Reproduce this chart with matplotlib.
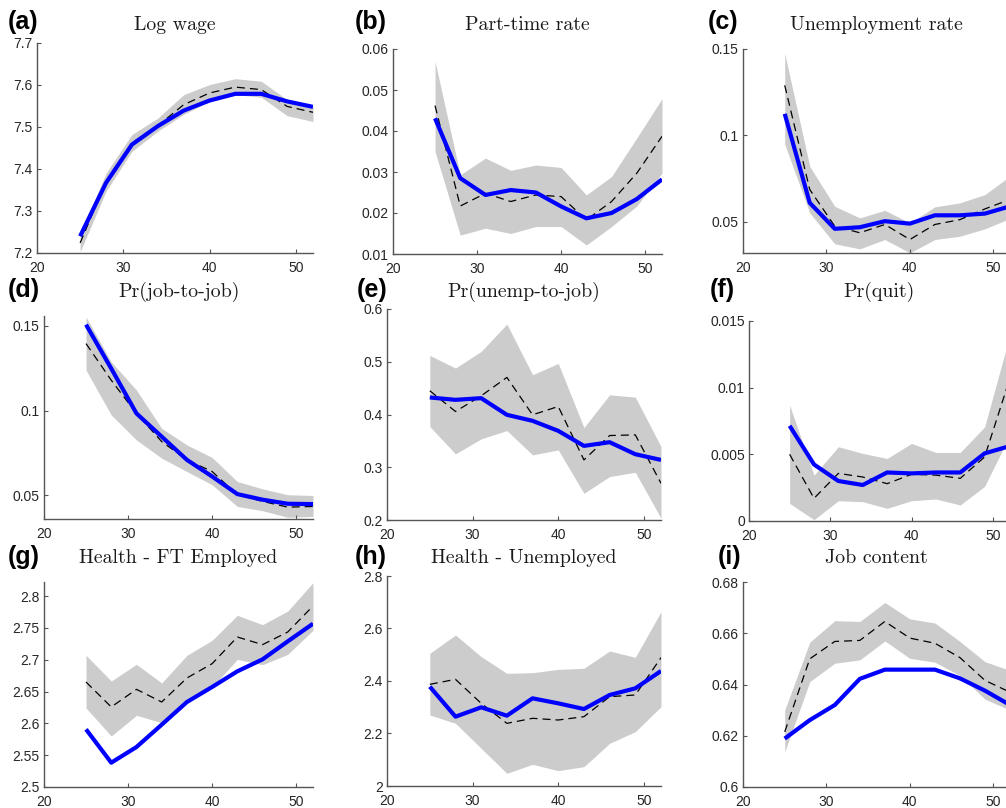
import matplotlib

matplotlib.use("Agg")
import matplotlib.pyplot as plt
from matplotlib.ticker import FixedLocator, FuncFormatter

W, H = 1006, 808

ages = [25, 28, 31, 34, 37, 40, 43, 46, 49, 52]

# (a) log wage
wage_model = [7.240, 7.367, 7.458, 7.502, 7.539, 7.563, 7.579, 7.579, 7.561, 7.548]
wage_data = [7.224, 7.370, 7.462, 7.503, 7.553, 7.581, 7.595, 7.589, 7.549, 7.535]
wage_hi = [7.245, 7.390, 7.482, 7.521, 7.577, 7.601, 7.615, 7.609, 7.565, 7.550]
wage_lo = [7.203, 7.347, 7.442, 7.490, 7.530, 7.561, 7.577, 7.571, 7.527, 7.513]

# (b) part-time rate
pt_model = [0.0431, 0.0285, 0.0244, 0.0256, 0.0250, 0.0216, 0.0187, 0.0200, 0.0234, 0.0282]
pt_data = [0.0462, 0.0217, 0.0248, 0.0228, 0.0244, 0.0240, 0.0183, 0.0228, 0.0297, 0.0387]
pt_hi = [0.0570, 0.0293, 0.0334, 0.0304, 0.0317, 0.0311, 0.0244, 0.0289, 0.0383, 0.0479]
pt_lo = [0.0350, 0.0146, 0.0163, 0.0150, 0.0167, 0.0167, 0.0122, 0.0167, 0.0217, 0.0297]

# (c) unemployment rate
ur_model = [0.1125, 0.0610, 0.0460, 0.0469, 0.0504, 0.0490, 0.0538, 0.0538, 0.0548, 0.0590]
ur_data = [0.1290, 0.0687, 0.0475, 0.0437, 0.0485, 0.0398, 0.0485, 0.0513, 0.0575, 0.0630]
ur_hi = [0.1475, 0.0821, 0.0590, 0.0523, 0.0567, 0.0494, 0.0587, 0.0610, 0.0658, 0.0765]
ur_lo = [0.0950, 0.0552, 0.0373, 0.0344, 0.0398, 0.0321, 0.0398, 0.0417, 0.0460, 0.0520]

# (d) job-to-job
j2j_model = [0.1508, 0.1249, 0.0984, 0.0847, 0.0710, 0.0612, 0.0508, 0.0475, 0.0451, 0.0449]
j2j_data = [0.1396, 0.1180, 0.0984, 0.0818, 0.0710, 0.0641, 0.0504, 0.0465, 0.0431, 0.0435]
j2j_hi = [0.1553, 0.1288, 0.1122, 0.0896, 0.0798, 0.0724, 0.0582, 0.0539, 0.0504, 0.0500]
j2j_lo = [0.1239, 0.0975, 0.0827, 0.0720, 0.0641, 0.0563, 0.0435, 0.0410, 0.0371, 0.0376]

# (e) unemp-to-job
u2j_model = [0.4323, 0.4278, 0.4310, 0.3994, 0.3880, 0.3690, 0.3405, 0.3475, 0.3247, 0.3139]
u2j_data = [0.4450, 0.4057, 0.4354, 0.4703, 0.3994, 0.4152, 0.3139, 0.3601, 0.3614, 0.2696]
u2j_hi = [0.5120, 0.4880, 0.5196, 0.5715, 0.4753, 0.4968, 0.3753, 0.4373, 0.4329, 0.3392]
u2j_lo = [0.3772, 0.3253, 0.3538, 0.3696, 0.3234, 0.3329, 0.2506, 0.2823, 0.2905, 0.2032]

# (f) quit
quit_model = [0.00714, 0.00424, 0.00300, 0.00270, 0.00364, 0.00357, 0.00364, 0.00364, 0.00507, 0.00560]
quit_data = [0.00500, 0.00170, 0.00357, 0.00330, 0.00280, 0.00350, 0.00344, 0.00320, 0.00480, 0.01050]
quit_hi = [0.00869, 0.00344, 0.00557, 0.00507, 0.00469, 0.00582, 0.00514, 0.00514, 0.00706, 0.01370]
quit_lo = [0.00132, 0.00010, 0.00152, 0.00145, 0.00095, 0.00152, 0.00165, 0.00120, 0.00260, 0.00630]

# (g) health, full-time employed
hft_model = [2.5906, 2.5382, 2.5628, 2.5979, 2.6335, 2.6571, 2.6817, 2.7005, 2.7288, 2.7565]
hft_data = [2.6649, 2.6257, 2.6534, 2.6335, 2.6712, 2.6937, 2.7356, 2.7236, 2.7435, 2.7843]
hft_hi = [2.7068, 2.6665, 2.6927, 2.6634, 2.7068, 2.7304, 2.7696, 2.7550, 2.7764, 2.8209]
hft_lo = [2.6241, 2.5801, 2.6126, 2.6010, 2.6351, 2.6571, 2.7005, 2.6921, 2.7084, 2.7461]

# (h) health, unemployed
hun_model = [2.3784, 2.2641, 2.2997, 2.2679, 2.3340, 2.3149, 2.2933, 2.3467, 2.3721, 2.4381]
hun_data = [2.3873, 2.4063, 2.3149, 2.2387, 2.2578, 2.2514, 2.2641, 2.3403, 2.3467, 2.4889]
hun_hi = [2.5054, 2.5752, 2.4927, 2.4292, 2.4317, 2.4444, 2.4483, 2.5143, 2.4902, 2.6641]
hun_lo = [2.2705, 2.2387, 2.1435, 2.0483, 2.0825, 2.0584, 2.0737, 2.1625, 2.2070, 2.3022]

# (i) job content
jc_model = [0.6189, 0.6261, 0.6320, 0.6422, 0.6458, 0.6458, 0.6458, 0.6424, 0.6376, 0.6320]
jc_data = [0.6215, 0.6500, 0.6568, 0.6572, 0.6646, 0.6581, 0.6561, 0.6505, 0.6416, 0.6370]
jc_hi = [0.6300, 0.6565, 0.6649, 0.6646, 0.6720, 0.6656, 0.6640, 0.6568, 0.6489, 0.6455]
jc_lo = [0.6137, 0.6411, 0.6483, 0.6496, 0.6570, 0.6502, 0.6487, 0.6435, 0.6343, 0.6300]

titles = ["Log wage", "Part-time rate", "Unemployment rate",
          "Pr(job-to-job)", "Pr(unemp-to-job)", "Pr(quit)",
          "Health - FT Employed", "Health - Unemployed", "Job content"]
letters = ["(a)", "(b)", "(c)", "(d)", "(e)", "(f)", "(g)", "(h)", "(i)"]
xticks = [20, 30, 40, 50]
yticks = [
    [7.2, 7.3, 7.4, 7.5, 7.6, 7.7],
    [0.01, 0.02, 0.03, 0.04, 0.05, 0.06],
    [0.05, 0.1, 0.15],
    [0.05, 0.1, 0.15],
    [0.2, 0.3, 0.4, 0.5, 0.6],
    [0, 0.005, 0.01, 0.015],
    [2.5, 2.55, 2.6, 2.65, 2.7, 2.75, 2.8],
    [2, 2.2, 2.4, 2.6, 2.8],
    [0.6, 0.62, 0.64, 0.66, 0.68],
]
ylims = [(7.2, 7.7), (0.01, 0.06), (0.032, 0.15), (0.0361, 0.1559), (0.2, 0.6),
         (0, 0.015), (2.5, 2.822), (2, 2.8), (0.6, 0.68)]
series = [
    (wage_model, wage_data, wage_lo, wage_hi),
    (pt_model, pt_data, pt_lo, pt_hi),
    (ur_model, ur_data, ur_lo, ur_hi),
    (j2j_model, j2j_data, j2j_lo, j2j_hi),
    (u2j_model, u2j_data, u2j_lo, u2j_hi),
    (quit_model, quit_data, quit_lo, quit_hi),
    (hft_model, hft_data, hft_lo, hft_hi),
    (hun_model, hun_data, hun_lo, hun_hi),
    (jc_model, jc_data, jc_lo, jc_hi),
]

# axes boxes in pixels: left, top, right, bottom
boxes = [
    (37, 43, 313, 253), (393, 49, 662, 254), (743, 49, 1010, 253),
    (44, 316, 313, 519), (387, 309, 661, 520), (749, 321, 1009, 521),
    (44, 582, 313, 787), (387, 576, 661, 786), (743, 582, 1010, 787),
]
title_y = [25, 25, 25, 292, 292, 292, 558, 558, 558]
letter_x = [8, 355, 708, 8, 357, 710, 8, 355, 718]
letter_y = [22, 22, 22, 290, 290, 290, 557, 557, 557]

fig = plt.figure(figsize=(W / 100, H / 100), dpi=100)
fmt = FuncFormatter(lambda v, p: f"{v:g}")

for k in range(9):
    l, t, r, b = boxes[k]
    ax = fig.add_axes([l / W, 1 - b / H, (r - l) / W, (b - t) / H])
    model, data, lo, hi = series[k]
    ax.fill_between(ages, lo, hi, color="#cccccc", linewidth=0, zorder=1)
    ax.plot(ages, data, color="black", lw=0.9, linestyle=(0, (6.4, 4)), zorder=2)
    ax.plot(ages, model, color="#0000ff", lw=3, solid_capstyle="butt", zorder=3)
    ax.set_xlim(20, 52)
    ax.set_ylim(*ylims[k])
    ax.xaxis.set_major_locator(FixedLocator(xticks))
    ax.yaxis.set_major_locator(FixedLocator(yticks[k]))
    ax.yaxis.set_major_formatter(fmt)
    for side in ("top", "right"):
        ax.spines[side].set_visible(False)
    for side in ("left", "bottom"):
        ax.spines[side].set_color("#555555")
        ax.spines[side].set_linewidth(1.0)
    ax.tick_params(direction="in", length=3, width=0.8, color="#555555",
                   labelsize=10, labelcolor="#262626")
    ax.tick_params(axis="x", pad=5.5)
    ax.tick_params(axis="y", pad=3)
    for lab in ax.get_xticklabels() + ax.get_yticklabels():
        lab.set_fontfamily("Liberation Sans")
    fig.text((l + r) / 2 / W, 1 - title_y[k] / H, titles[k], family="cmr10",
             fontsize=14.3, ha="center", va="center", color="#1a1a1a")
    fig.text(letter_x[k] / W, 1 - letter_y[k] / H, letters[k],
             family="Liberation Sans", fontweight="bold", fontsize=18,
             ha="left", va="center")

fig.savefig("out.png", dpi=100)
plt.close(fig)
